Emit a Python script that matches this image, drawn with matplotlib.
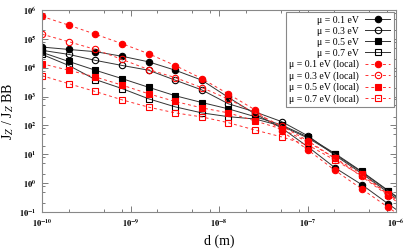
import numpy as np
import matplotlib
matplotlib.use('Agg')
import matplotlib.pyplot as plt
from matplotlib.ticker import FuncFormatter, NullFormatter

plt.rcParams['font.family'] = ['Liberation Serif', 'DejaVu Serif']
plt.rcParams['mathtext.fontset'] = 'stix'

# distancia d (m): 1e-10 * 2^k
d = [1.0e-10, 2.0e-10, 4.0e-10, 8.0e-10, 1.6e-9, 3.2e-9, 6.4e-9, 1.28e-8,
     2.56e-8, 5.12e-8, 1.024e-7, 2.048e-7, 4.096e-7, 8.192e-7, 1.6384e-6]

# no local (negro)
mu01 = [5.2e4, 4.3e4, 3.6e4, 2.5e4, 1.6e4, 8.2e3, 3.7e3, 930, 250, 81, 17.6, 3.4, 0.89, 0.19, 0.042]
mu03 = [4.0e4, 2.9e4, 1.8e4, 1.2e4, 8.2e3, 3.7e3, 1.7e3, 560, 294, 135, 42.6, 9.2, 2.17, 0.47, 0.10]
mu05 = [3.4e4, 1.65e4, 8.2e3, 4.2e3, 2.1e3, 1.07e3, 622, 374, 201, 103, 39, 10.6, 2.55, 0.55, 0.12]
mu07 = [2.9e4, 1.2e4, 3.9e3, 1.9e3, 838, 440, 272, 201, 167, 95, 36, 10, 2.44, 0.53, 0.115]

# local (rojo)
mu01_loc = [6.0e5, 3.0e5, 1.45e5, 6.85e4, 3.06e4, 1.19e4, 4.2e3, 1.22e3, 345, 64, 13.8, 2.76, 0.63, 0.144, 0.033]
mu03_loc = [1.45e5, 8.0e4, 4.3e4, 1.94e4, 8.65e3, 4.54e3, 2.03e3, 818, 272, 95, 28.5, 7.2, 1.7, 0.37, 0.08]
mu05_loc = [1.37e4, 8.2e3, 4.8e3, 2.5e3, 1.25e3, 675, 406, 272, 143, 75, 26.3, 7.2, 2.11, 0.42, 0.094]
mu07_loc = [5.3e3, 2.8e3, 1.5e3, 773, 430, 272, 197, 124, 69, 40, 20.6, 6.2, 1.85, 0.40, 0.087]

labels = ['μ = 0.1 eV', 'μ = 0.3 eV', 'μ = 0.5 eV', 'μ = 0.7 eV',
          'μ = 0.1 eV (local)', 'μ = 0.3 eV (local)', 'μ = 0.5 eV (local)', 'μ = 0.7 eV (local)']

# decadas de los ejes
x_exp = [-10, -9, -8, -7, -6]
y_exp = [-1, 0, 1, 2, 3, 4, 5, 6]

fig = plt.figure(figsize=(4.15, 2.49), dpi=100)
ax = fig.add_axes([42/415, 1-212/249, (396-42)/415, (212-10)/249])

series = [mu01, mu03, mu05, mu07, mu01_loc, mu03_loc, mu05_loc, mu07_loc]
markers = ['o', 'o', 's', 's', 'o', 'o', 's', 's']
filled = [True, False, True, False, True, False, True, False]

for i, ys in enumerate(series):
    local = i >= 4
    c = '#ff0000' if local else 'black'
    ls = (0, (3, 3)) if local else '-'
    lc = '#ff3030' if local else '#333333'
    ax.plot(d, ys, color=lc, linestyle=ls, linewidth=0.7,
            marker=markers[i], markersize=4.6,
            markerfacecolor=c if filled[i] else 'none',
            markeredgecolor=c, markeredgewidth=0.8, label=labels[i])

ax.set_xscale('log')
ax.set_yscale('log')
ax.set_xlim(1e-10, 1e-6)
ax.set_ylim(1e-1, 1e6)

def fmt(v, pos):
    e = int(round(np.log10(v)))
    return r'$\mathbf{10^{%d}}$' % e

# ticks solo dentro del rango
ax.set_xticks([10.0**e for e in x_exp])
ax.set_yticks([10.0**e for e in y_exp])
ax.set_xticks([s * 10.0**e for e in x_exp[:-1] for s in (2, 5, 8)], minor=True)
ax.set_yticks([s * 10.0**e for e in y_exp[:-1] for s in (2, 5, 8)], minor=True)
ax.xaxis.set_major_formatter(FuncFormatter(fmt))
ax.yaxis.set_major_formatter(FuncFormatter(fmt))
ax.xaxis.set_minor_formatter(NullFormatter())
ax.yaxis.set_minor_formatter(NullFormatter())
ax.tick_params(which='both', direction='in', top=True, right=True, labelsize=6,
               color='#666666', width=0.6)
ax.tick_params(which='major', length=4, pad=4)
ax.tick_params(which='minor', length=2)
for s in ax.spines.values():
    s.set_color('#888888')
    s.set_linewidth(0.8)

ax.set_xlabel('d (m)', fontsize=10, labelpad=4)
ax.set_ylabel(r'J$_Z$ / J$_Z$ BB', fontsize=10, labelpad=2)

leg = ax.legend(loc='upper right', fontsize=7, markerfirst=False, handlelength=2.6,
                labelspacing=0.2, borderpad=0.35, handletextpad=0.6,
                fancybox=False, framealpha=1, borderaxespad=0.25)
leg.get_frame().set_edgecolor('#888888')
leg.get_frame().set_linewidth(0.8)
for t in leg.get_texts():
    t.set_ha('right')
leg._legend_box.align = 'right'

fig.savefig('out.png', dpi=100)
